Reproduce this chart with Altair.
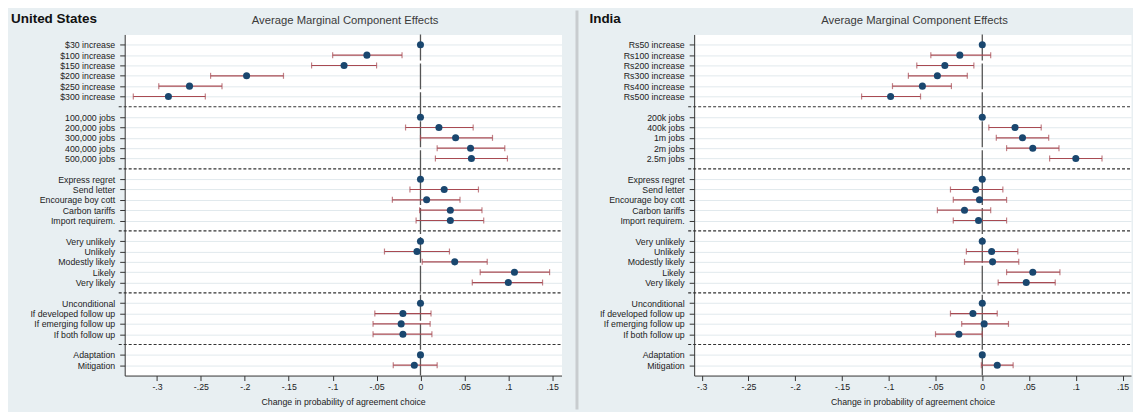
import json
import altair as alt
import pandas as pd

# ---------------- data ----------------
group_sizes = [6, 5, 5, 5, 4, 2]

us_labels = ["$30 increase", "$100 increase", "$150 increase", "$200 increase", "$250 increase", "$300 increase",
             "100,000 jobs", "200,000 jobs", "300,000 jobs", "400,000 jobs", "500,000 jobs",
             "Express regret", "Send letter", "Encourage boy cott", "Carbon tariffs", "Import requirem.",
             "Very unlikely", "Unlikely", "Modestly likely", "Likely", "Very likely",
             "Unconditional", "If developed follow up", "If emerging follow up", "If both follow up",
             "Adaptation", "Mitigation"]
us_est = [0, -0.061, -0.087, -0.198, -0.263, -0.287,
          0, 0.021, 0.040, 0.057, 0.058,
          0, 0.027, 0.007, 0.034, 0.034,
          0, -0.004, 0.039, 0.107, 0.100,
          0, -0.020, -0.022, -0.020,
          0, -0.007]
us_lo = [None, -0.100, -0.124, -0.239, -0.298, -0.327,
         None, -0.017, 0.000, 0.019, 0.017,
         None, -0.012, -0.032, -0.001, -0.005,
         None, -0.041, 0.002, 0.068, 0.059,
         None, -0.052, -0.054, -0.054,
         None, -0.031]
us_hi = [None, -0.021, -0.050, -0.156, -0.226, -0.245,
         None, 0.060, 0.082, 0.096, 0.099,
         None, 0.066, 0.045, 0.070, 0.072,
         None, 0.033, 0.076, 0.147, 0.139,
         None, 0.012, 0.011, 0.013,
         None, 0.019]

in_labels = ["Rs50 increase", "Rs100 increase", "Rs200 increase", "Rs300 increase", "Rs400 increase", "Rs500 increase",
             "200k jobs", "400k jobs", "1m jobs", "2m jobs", "2.5m jobs",
             "Express regret", "Send letter", "Encourage boy cott", "Carbon tariffs", "Import requirem.",
             "Very unlikely", "Unlikely", "Modestly likely", "Likely", "Very likely",
             "Unconditional", "If developed follow up", "If emerging follow up", "If both follow up",
             "Adaptation", "Mitigation"]
in_est = [0, -0.024, -0.040, -0.048, -0.064, -0.098,
          0, 0.035, 0.043, 0.054, 0.100,
          0, -0.007, -0.003, -0.019, -0.004,
          0, 0.010, 0.011, 0.054, 0.047,
          0, -0.010, 0.002, -0.025,
          0, 0.016]
in_lo = [None, -0.055, -0.070, -0.079, -0.096, -0.129,
         None, 0.007, 0.015, 0.026, 0.072,
         None, -0.034, -0.031, -0.048, -0.031,
         None, -0.017, -0.019, 0.026, 0.017,
         None, -0.034, -0.022, -0.050,
         None, -0.001]
in_hi = [None, 0.009, -0.009, -0.016, -0.033, -0.066,
         None, 0.063, 0.071, 0.082, 0.128,
         None, 0.022, 0.026, 0.009, 0.026,
         None, 0.038, 0.039, 0.083, 0.078,
         None, 0.016, 0.028, 0.000,
         None, 0.033]

xtick_vals = [-0.3, -0.25, -0.2, -0.15, -0.1, -0.05, 0, 0.05, 0.1, 0.15]
xtick_labels = ["-.3", "-.25", "-.2", "-.15", "-.1", "-.05", "0", ".05", ".1", ".15"]

panel_title = "Average Marginal Component Effects"
x_title = "Change in probability of agreement choice"

# ---------------- layout helpers ----------------
slots, sep_slots = [], []
pos = 0
for gi, n in enumerate(group_sizes):
    for k in range(n):
        slots.append(pos)
        pos += 1
    if gi < len(group_sizes) - 1:
        sep_slots.append(pos)
        pos += 1
n_slots = pos

W, H = 438, 342
FONT = "Liberation Sans"
NAVY = "#1a476f"
RED = "#a84a52"


def panel(country, labels, est, lo, hi, xdomain, cx, divider=False):
    df = pd.DataFrame({"slot": slots, "label": labels, "est": est, "lo": lo, "hi": hi})
    slot_labels = [""] * n_slots
    for s, l in zip(slots, labels):
        slot_labels[s] = l
    yscale = alt.Scale(domain=[-1, n_slots], reverse=True, nice=False, zero=False)
    yaxis = alt.Axis(values=slots, labelExpr=f"{json.dumps(slot_labels)}[datum.value]",
                     title=None, grid=True, gridColor="#e1e9ed", gridWidth=1,
                     domainColor="#333333", tickColor="#333333", tickSize=5,
                     labelPadding=5, labelFontSize=8.8, labelFont=FONT, labelColor="#222222",
                     minExtent=116, maxExtent=116, labelOverlap=False)
    xscale = alt.Scale(domain=xdomain, nice=False, zero=False)
    xaxis = alt.Axis(values=xtick_vals,
                     labelExpr=f"{json.dumps(xtick_labels)}[indexof({json.dumps(xtick_vals)}, datum.value)]",
                     grid=False, domainColor="#333333", tickColor="#333333", tickSize=5,
                     labelPadding=2, labelFontSize=8.8, labelFont=FONT, labelColor="#222222",
                     labelOverlap=False,
                     title=x_title, titleFont=FONT,
                     titleFontSize=8.8, titleFontWeight="normal", titleColor="#222222", titlePadding=6)

    def X(f):
        return alt.X(f, scale=xscale, axis=xaxis)

    def Y(f):
        return alt.Y(f, scale=yscale, axis=yaxis)

    base = alt.Chart(df)
    pts = base.mark_circle(color=NAVY, size=50, opacity=1).encode(x=X("est:Q"), y=Y("slot:Q"))

    seps = alt.Chart(pd.DataFrame({"slot": sep_slots})).mark_rule(
        color="#333333", strokeDash=[3, 2], strokeWidth=1.1).encode(
        y=Y("slot:Q"), x=alt.value(-6), x2=alt.value(W))

    zero = alt.Chart(pd.DataFrame({"est": [0]})).mark_rule(
        color="#555555", strokeDash=[26, 3], strokeWidth=1.3).encode(
        x=X("est:Q"), y=alt.value(0), y2=alt.value(H))

    ci = base.transform_filter("isValid(datum.lo)")
    bars = ci.mark_rule(color=RED, strokeWidth=1.2).encode(
        x=X("lo:Q"), x2="hi:Q", y=Y("slot:Q"))
    cap_lo = ci.mark_tick(color=RED, orient="vertical", size=6, thickness=1.2).encode(
        x=X("lo:Q"), y=Y("slot:Q"))
    cap_hi = ci.mark_tick(color=RED, orient="vertical", size=6, thickness=1.2).encode(
        x=X("hi:Q"), y=Y("slot:Q"))

    name = alt.Chart(pd.DataFrame({"t": [country]})).mark_text(
        font=FONT, fontSize=13.5, fontWeight="bold", color="#111111",
        align="left", baseline="middle").encode(
        text="t:N", x=alt.value(cx), y=alt.value(-15))
    ttl = alt.Chart(pd.DataFrame({"t": [panel_title]})).mark_text(
        font=FONT, fontSize=11.3, color="#3a3a3a",
        align="center", baseline="middle").encode(
        text="t:N", x=alt.value(221), y=alt.value(-13.5))

    layers = [seps, zero, bars, cap_lo, cap_hi, pts, name, ttl]
    if divider:
        div = alt.Chart(pd.DataFrame({"d": [0]})).mark_rule(
            color="#c8cccf", strokeWidth=3).encode(
            x=alt.value(453.5), y=alt.value(-24), y2=alt.value(376))
        layers.append(div)

    return alt.layer(*layers).properties(width=W, height=H)


left = panel("United States", us_labels, us_est, us_lo, us_hi, [-0.3368, 0.1606], -114, divider=True)
right = panel("India", in_labels, in_est, in_lo, in_hi, [-0.308, 0.159], -105)

chart = alt.hconcat(left, right, spacing=133, bounds="flush").configure(
    background="#e8eff2",
    padding={"left": 0, "top": 0, "right": 0, "bottom": 0},
).configure_view(stroke="transparent", fill="white")

chart.save("out.html", embed_options={"renderer": "svg", "actions": False})
